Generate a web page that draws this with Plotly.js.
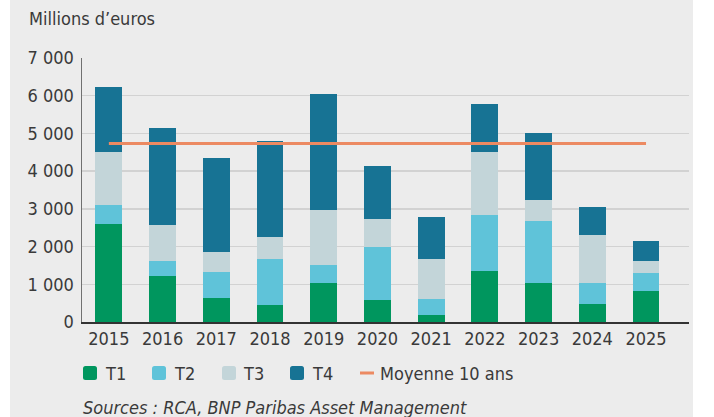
<!DOCTYPE html>
<html><head><meta charset="utf-8">
<script src="https://cdn.plot.ly/plotly-3.0.1.min.js"></script>
<style>
html,body{margin:0;padding:0;background:#fff;}
#bg{position:absolute;left:10px;top:0;width:683px;height:417px;background:#ececec;}
#chart{position:absolute;left:0;top:0;width:714px;height:417px;}
</style></head>
<body><div id="bg"></div><div id="chart"></div>
<script>
// ---- data ----
const years = ['2015','2016','2017','2018','2019','2020','2021','2022','2023','2024','2025'];
const t1 = [2600, 1230, 640, 460, 1040, 590, 190, 1360, 1040, 490, 830];
const t2 = [500, 390, 690, 1220, 480, 1400, 420, 1480, 1640, 550, 480];
const t3 = [1400, 950, 530, 580, 1460, 740, 1060, 1670, 560, 1270, 320];
const t4 = [1720, 2570, 2490, 2540, 3070, 1400, 1110, 1270, 1770, 740, 530];
const average10y = 4730;
const seriesNames = ['T1', 'T2', 'T3', 'T4'];
const averageName = 'Moyenne 10 ans';
const yTickVals = [0, 1000, 2000, 3000, 4000, 5000, 6000, 7000];
const yTickText = ['0', '1 000', '2 000', '3 000', '4 000', '5 000', '6 000', '7 000'];
const unitLabel = 'Millions d\u2019euros';
const sourceLabel = 'Sources : RCA, BNP Paribas Asset Management';

// ---- styles ----
const colors = ['#00965e', '#5fc3d9', '#c3d5d9', '#177394'];
const avgColor = '#ec8a62';
const textColor = '#3a3a3a';
const FONT = '"DejaVu Sans Condensed", "Liberation Sans Narrow", "Liberation Sans", sans-serif';

const W = 714, H = 417;
const M = {l: 82, r: 25, t: 58, b: 95};
const PW = W - M.l - M.r, PH = H - M.t - M.b;
const px = x => (x - M.l) / PW;
const py = y => (H - M.b - y) / PH;

const values = [t1, t2, t3, t4];
const traces = values.map((v, i) => ({
  type: 'bar', x: years, y: v, name: seriesNames[i],
  marker: {color: colors[i], line: {width: 0}},
  showlegend: false, hoverinfo: 'skip'
}));
traces.push({
  type: 'scatter', mode: 'lines',
  x: [years[0], years[years.length - 1]], y: [average10y, average10y],
  name: averageName, line: {color: avgColor, width: 3},
  showlegend: false, hoverinfo: 'skip'
});

// manual legend
const legendY = 373;
const boxX = [83, 152, 222, 290];
const textX = [103, 172, 241, 310];
const shapes = [];
const annotations = [];
function roundRect(x0, y0, x1, y1, r) {
  const X0 = px(x0), X1 = px(x1), Y0 = py(y0), Y1 = py(y1);
  const rx = r / PW, ry = r / PH;
  return 'M' + (X0 + rx) + ',' + Y0 + ' L' + (X1 - rx) + ',' + Y0 +
    ' Q' + X1 + ',' + Y0 + ' ' + X1 + ',' + (Y0 - ry) +
    ' L' + X1 + ',' + (Y1 + ry) + ' Q' + X1 + ',' + Y1 + ' ' + (X1 - rx) + ',' + Y1 +
    ' L' + (X0 + rx) + ',' + Y1 + ' Q' + X0 + ',' + Y1 + ' ' + X0 + ',' + (Y1 + ry) +
    ' L' + X0 + ',' + (Y0 - ry) + ' Q' + X0 + ',' + Y0 + ' ' + (X0 + rx) + ',' + Y0 + ' Z';
}
boxX.forEach((bx, i) => {
  shapes.push({type: 'path', xref: 'paper', yref: 'paper',
    path: roundRect(bx, legendY - 7, bx + 14, legendY + 7, 2.5),
    fillcolor: colors[i], line: {width: 0}});
  annotations.push({xref: 'paper', yref: 'paper', x: px(textX[i]), y: py(legendY),
    xanchor: 'left', yanchor: 'middle', showarrow: false, text: seriesNames[i],
    font: {family: FONT, size: 18, color: textColor}});
});
shapes.push({type: 'line', xref: 'paper', yref: 'paper',
  x0: px(360), x1: px(374), y0: py(legendY), y1: py(legendY),
  line: {color: avgColor, width: 3}});
annotations.push({xref: 'paper', yref: 'paper', x: px(378), y: py(legendY),
  xanchor: 'left', yanchor: 'middle', showarrow: false, text: averageName,
  font: {family: FONT, size: 18, color: textColor}});
annotations.push({xref: 'paper', yref: 'paper', x: px(81), y: py(407),
  xanchor: 'left', yanchor: 'middle', showarrow: false, text: '<i>' + sourceLabel + '</i>',
  font: {family: FONT, size: 18, color: textColor}});

const layout = {
  width: W, height: H,
  margin: M,
  paper_bgcolor: 'rgba(0,0,0,0)', plot_bgcolor: 'rgba(0,0,0,0)',
  barmode: 'stack', bargap: 0.5,
  showlegend: false,
  font: {family: FONT, color: textColor},
  title: {text: unitLabel, x: 29 / W, xanchor: 'left', xref: 'container',
    y: 1 - 19 / H, yanchor: 'middle', yref: 'container',
    font: {family: FONT, size: 18, color: textColor}},
  xaxis: {type: 'category', range: [-0.5, 10.8], showgrid: false,
    showline: true, linecolor: '#333', linewidth: 1.5, ticks: '',
    tickfont: {family: FONT, size: 18, color: textColor}, zeroline: false, fixedrange: true},
  yaxis: {range: [0, 7000], tickvals: yTickVals, ticktext: yTickText,
    showgrid: true, gridcolor: '#d2d2d2', gridwidth: 1.5, zeroline: false,
    showline: true, linecolor: '#707070', linewidth: 1.5, ticks: '',
    ticklabelstandoff: 3,
    tickfont: {family: FONT, size: 18, color: textColor}, fixedrange: true},
  shapes: shapes,
  annotations: annotations
};

Plotly.newPlot('chart', traces, layout, {staticPlot: true, displayModeBar: false});
</script>
</body></html>
